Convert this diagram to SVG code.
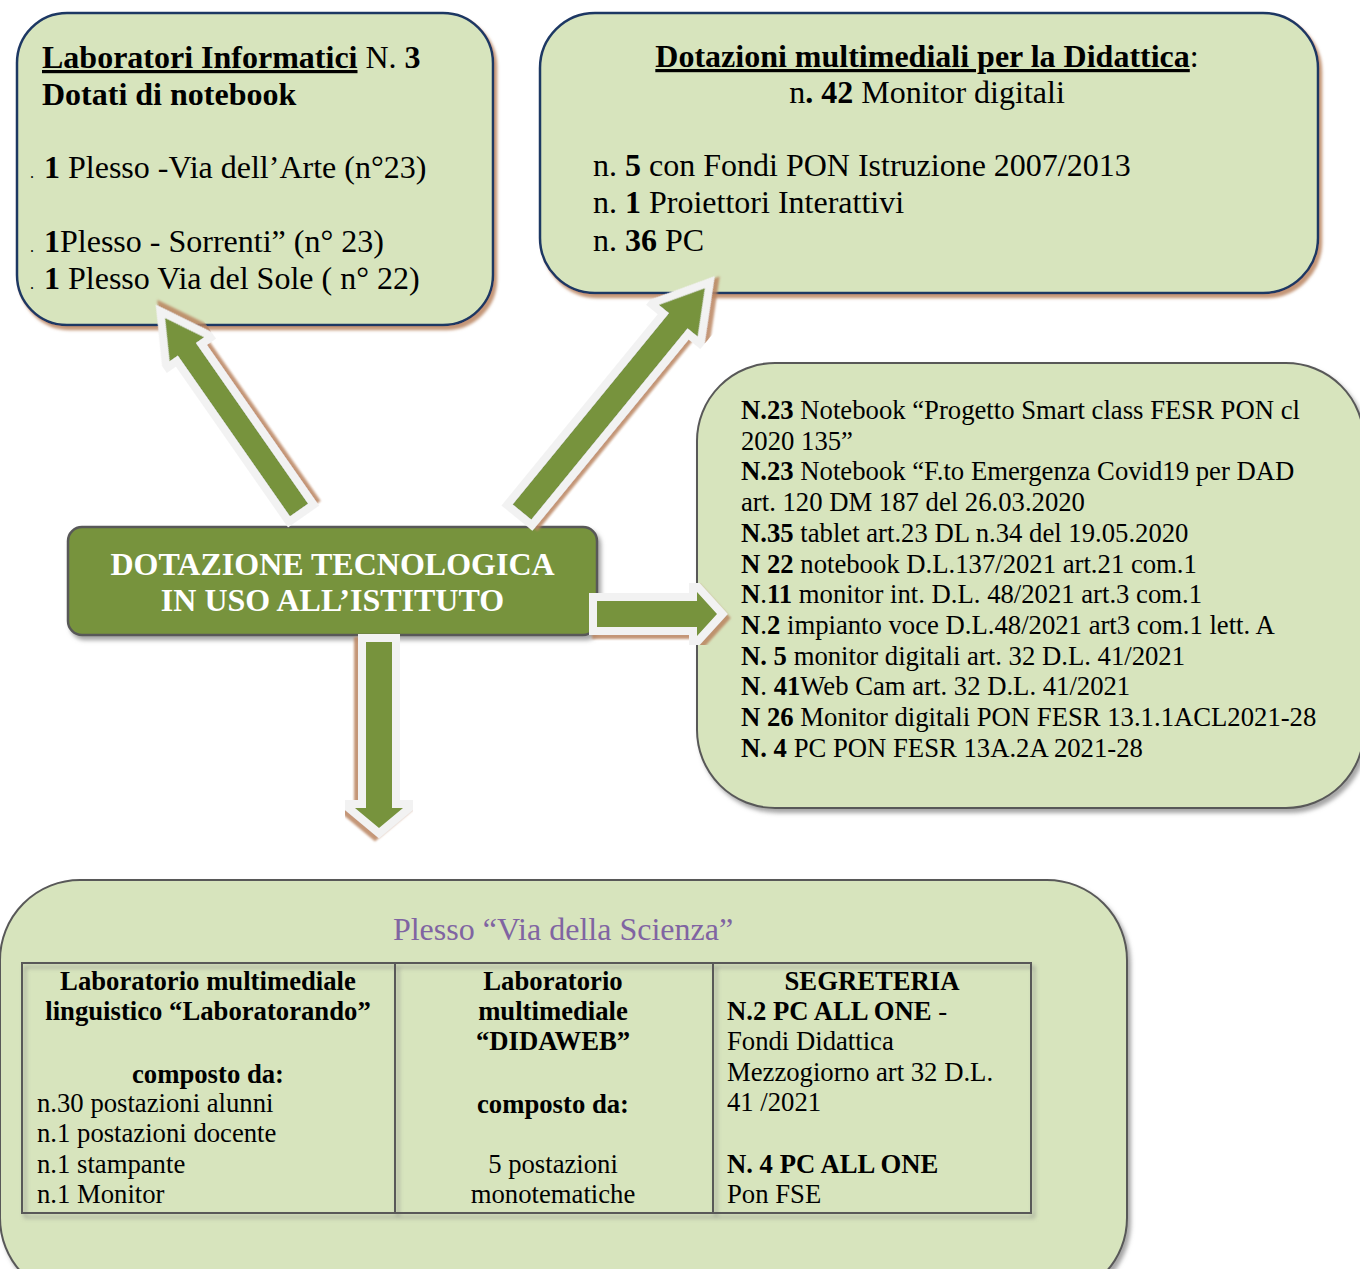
<svg xmlns="http://www.w3.org/2000/svg" width="1360" height="1269" viewBox="0 0 1360 1269">
<defs>
<filter id="shB" x="-10%" y="-10%" width="130%" height="130%">
<feDropShadow dx="3" dy="4" stdDeviation="1.5" flood-color="#b9845f" flood-opacity="0.85"/>
</filter>
<filter id="shG" x="-10%" y="-10%" width="130%" height="130%">
<feDropShadow dx="3" dy="4" stdDeviation="2" flood-color="#7f7f7f" flood-opacity="0.7"/>
</filter>
<filter id="shA" x="-20%" y="-20%" width="140%" height="140%">
<feDropShadow dx="3" dy="4" stdDeviation="1.2" flood-color="#b9845f" flood-opacity="0.85"/>
</filter>
</defs>
<style>
text{font-family:"Liberation Serif","Times New Roman",serif;fill:#000}
.t32{font-size:32px}
.t27{font-size:26.7px}
.b{font-weight:bold}
.u{text-decoration:underline}
.mid{text-anchor:middle}
.box{fill:#d7e4bd}
.navy{stroke:#1f3864;stroke-width:2.5}
.grey{stroke:#595959;stroke-width:2}
.arrow{fill:#77933c;stroke:#f2f2f2;stroke-width:16;paint-order:stroke;stroke-linejoin:miter;stroke-miterlimit:10;filter:url(#shA)}
.tbl{fill:none;stroke:#595959;stroke-width:2}
</style>

<g id="node-laboratori">
<rect class="box navy" x="17" y="13" width="476" height="312" rx="50" ry="50" filter="url(#shB)"/>
<text class="t32" x="42" y="68"><tspan class="b u">Laboratori Informatici</tspan> N. <tspan class="b">3</tspan></text>
<text class="t32 b" x="42" y="105">Dotati di notebook</text>
<text class="t32" y="178"><tspan x="30" font-size="16">.</tspan><tspan x="44" class="b">1</tspan> Plesso -Via dell’Arte (n°23)</text>
<text class="t32" y="252"><tspan x="30" font-size="16">.</tspan><tspan x="44" class="b">1</tspan>Plesso - Sorrenti” (n° 23)</text>
<text class="t32" y="289"><tspan x="30" font-size="16">.</tspan><tspan x="44" class="b">1</tspan> Plesso Via del Sole ( n° 22)</text>
</g>

<g id="node-dotazioni">
<rect class="box navy" x="540" y="13" width="778" height="280" rx="55" ry="55" filter="url(#shB)"/>
<text class="t32 mid" x="927" y="67"><tspan class="b u">Dotazioni multimediali per la Didattica</tspan>:</text>
<text class="t32 mid" x="927" y="103">n<tspan class="b">. 42</tspan> Monitor digitali</text>
<text class="t32" x="593" y="176">n. <tspan class="b">5</tspan> con Fondi PON Istruzione 2007/2013</text>
<text class="t32" x="593" y="213">n. <tspan class="b">1</tspan> Proiettori Interattivi</text>
<text class="t32" x="593" y="251">n. <tspan class="b">36</tspan> PC</text>
</g>

<g id="node-elenco">
<rect class="box grey" x="697" y="363" width="667" height="445" rx="78" ry="78" filter="url(#shG)"/>
<text class="t27" x="741" y="419"><tspan class="b">N.23</tspan> Notebook “Progetto Smart class FESR PON cl</text>
<text class="t27" x="741" y="449.7">2020 135”</text>
<text class="t27" x="741" y="480.4"><tspan class="b">N.23</tspan> Notebook “F.to Emergenza Covid19 per DAD</text>
<text class="t27" x="741" y="511.1">art. 120 DM 187 del 26.03.2020</text>
<text class="t27" x="741" y="541.8"><tspan class="b">N.35</tspan> tablet art.23 DL n.34 del 19.05.2020</text>
<text class="t27" x="741" y="572.5"><tspan class="b">N 22</tspan> notebook D.L.137/2021 art.21 com.1</text>
<text class="t27" x="741" y="603.2"><tspan class="b">N</tspan>.<tspan class="b">11</tspan> monitor int. D.L. 48/2021 art.3 com.1</text>
<text class="t27" x="741" y="633.9"><tspan class="b">N</tspan>.<tspan class="b">2</tspan> impianto voce D.L.48/2021 art3 com.1 lett. A</text>
<text class="t27" x="741" y="664.6"><tspan class="b">N. 5</tspan> monitor digitali art. 32 D.L. 41/2021</text>
<text class="t27" x="741" y="695.3"><tspan class="b">N</tspan>. <tspan class="b">41</tspan>Web Cam art. 32 D.L. 41/2021</text>
<text class="t27" x="741" y="726"><tspan class="b">N 26</tspan> Monitor digitali PON FESR 13.1.1ACL2021-28</text>
<text class="t27" x="741" y="756.7"><tspan class="b">N. 4</tspan> PC PON FESR 13A.2A 2021-28</text>
</g>

<g id="node-scienza">
<rect class="box grey" x="0" y="880" width="1127" height="418" rx="80" ry="80" filter="url(#shG)"/>
<text class="mid" x="563" y="940" font-size="32" style="fill:#8064a2">Plesso “Via della Scienza”</text>
<g filter="url(#shG)">
<rect class="tbl" x="22" y="963" width="1009" height="250"/>
<line class="tbl" x1="395" y1="963" x2="395" y2="1213"/>
<line class="tbl" x1="713" y1="963" x2="713" y2="1213"/>
</g>
<text class="t27 b mid" x="208" y="990">Laboratorio multimediale</text>
<text class="t27 b mid" x="208" y="1020">linguistico “Laboratorando”</text>
<text class="t27 b mid" x="208" y="1083">composto da:</text>
<text class="t27" x="37" y="1112">n.30 postazioni alunni</text>
<text class="t27" x="37" y="1142">n.1 postazioni docente</text>
<text class="t27" x="37" y="1173">n.1 stampante</text>
<text class="t27" x="37" y="1203">n.1 Monitor</text>
<text class="t27 b mid" x="553" y="990">Laboratorio</text>
<text class="t27 b mid" x="553" y="1020">multimediale</text>
<text class="t27 b mid" x="553" y="1050">“DIDAWEB”</text>
<text class="t27 b mid" x="553" y="1113">composto da:</text>
<text class="t27 mid" x="553" y="1173">5 postazioni</text>
<text class="t27 mid" x="553" y="1203">monotematiche</text>
<text class="t27 b mid" x="872" y="990">SEGRETERIA</text>
<text class="t27" x="727" y="1020"><tspan class="b">N.2 PC ALL ONE</tspan> -</text>
<text class="t27" x="727" y="1050">Fondi Didattica</text>
<text class="t27" x="727" y="1081">Mezzogiorno art 32 D.L.</text>
<text class="t27" x="727" y="1111">41 /2021</text>
<text class="t27 b" x="727" y="1173">N. 4 PC ALL ONE</text>
<text class="t27" x="727" y="1203">Pon FSE</text>
</g>

<g id="node-centro">
<rect x="68" y="527" width="529" height="108" rx="14" ry="14" fill="#77933c" stroke="#595959" stroke-width="2.5" filter="url(#shG)"/>
<text class="t32 b mid" x="332.5" y="575" style="fill:#ffffff">DOTAZIONE TECNOLOGICA</text>
<text class="t32 b mid" x="332.5" y="611" style="fill:#ffffff">IN USO ALL’ISTITUTO</text>
</g>

<g id="connectors">
<polygon class="arrow" transform="translate(299,510) rotate(-124.9)" points="0,-11 196,-11 196,-21 234,0 196,21 196,11 0,11"/>
<polygon class="arrow" transform="translate(522,512) rotate(-50.75)" points="0,-12 247,-12 247,-25 289,0 247,25 247,12 0,12"/>
<polygon class="arrow" transform="translate(597,614)" points="0,-13 100,-13 100,-22 120,0 100,22 100,13 0,13"/>
<polygon class="arrow" transform="translate(379,642) rotate(90)" points="0,-13 166,-13 166,-24 186,0 166,24 166,13 0,13"/>
</g>
</svg>
